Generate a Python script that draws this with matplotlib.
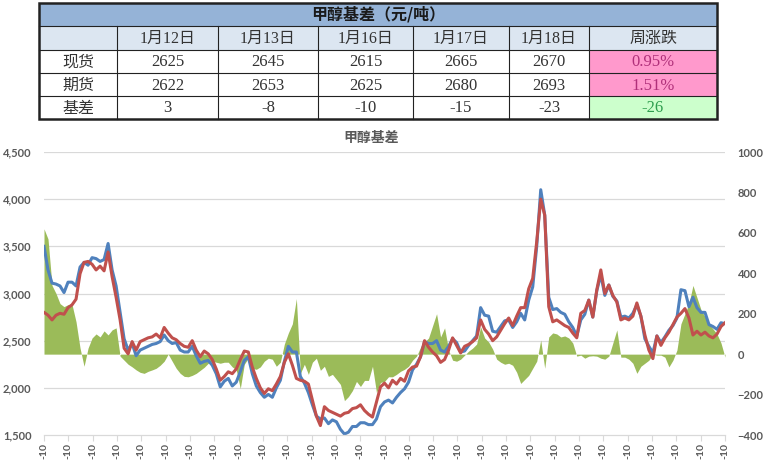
import numpy as np
import matplotlib
matplotlib.use('Agg')
import matplotlib.pyplot as plt
from matplotlib.patches import Rectangle
from matplotlib.transforms import blended_transform_factory
from matplotlib.ticker import FuncFormatter

# ---------------- data ----------------
spot = [3500, 3250, 3110, 3100, 3080, 3010, 3120, 3120, 3080, 3280,
        3330, 3300, 3380, 3370, 3340, 3360, 3530, 3250, 3080, 2800,
        2520, 2400, 2470, 2340, 2400, 2420, 2440, 2460, 2470, 2490,
        2560, 2500, 2470, 2480, 2400, 2380, 2380, 2440, 2340, 2260,
        2280, 2290, 2240, 2150, 2010, 2070, 2100, 2020, 2060, 2170,
        2290, 2330, 2150, 2020, 1950, 1900, 1930, 1900, 2000, 2080,
        2280, 2440, 2380, 2380, 2120, 2050, 1950, 1820, 1700, 1670,
        1680, 1620, 1660, 1640, 1560, 1510, 1530, 1590, 1590, 1630,
        1630, 1610, 1610, 1670, 1800, 1850, 1870, 1840, 1900, 1950,
        1990, 2060, 2190, 2250, 2330, 2490, 2470, 2470, 2500, 2400,
        2380, 2440, 2520, 2480, 2380, 2390, 2450, 2500, 2550, 2850,
        2770, 2760, 2600, 2590, 2650, 2710, 2720, 2640, 2700, 2790,
        2720, 2930, 3070, 3500, 4100, 3830, 2960, 2830, 2840, 2800,
        2780, 2700, 2640, 2550, 2720, 2780, 2930, 2750, 3030, 3200,
        2980, 3090, 2970, 2920, 2750, 2760, 2740, 2790, 2880, 2760,
        2520, 2440, 2370, 2550, 2480, 2540, 2610, 2660, 2740, 3040,
        3030, 2860, 2960, 2850, 2800, 2800, 2670, 2650, 2620, 2690,
        2680]
futures = [2800, 2770, 2720, 2770, 2790, 2780, 2850, 2880, 2940, 3210,
           3330, 3340, 3310, 3250, 3290, 3240, 3440, 3180, 2960, 2720,
           2420, 2360, 2490, 2400, 2490, 2510, 2530, 2540, 2570, 2530,
           2640, 2580, 2530, 2510, 2470, 2440, 2430, 2500, 2400, 2330,
           2390, 2360, 2300, 2200, 2080, 2120, 2170, 2150, 2200, 2300,
           2390, 2380, 2220, 2100, 2000, 1940, 1990, 1970, 2040, 2120,
           2270, 2360, 2240, 2100, 2080, 2070, 2040, 1870, 1700, 1600,
           1800, 1760, 1740, 1720, 1700, 1730, 1740, 1780, 1790, 1820,
           1760, 1720, 1690, 1850, 2010, 2050, 2000, 2080, 2040, 2100,
           2070, 2180, 2220, 2230, 2330, 2500, 2430, 2380, 2340, 2270,
           2300, 2400, 2530, 2450, 2370, 2440, 2460, 2490, 2530, 2720,
           2620, 2570, 2500, 2540, 2610, 2680, 2740, 2660, 2760, 2850,
           2850, 3050, 3160, 3550, 4000, 3830, 2860, 2700, 2720, 2690,
           2660, 2640, 2580, 2530, 2790, 2820, 2930, 2750, 3040, 3250,
           3000, 3090, 2980, 2910, 2720, 2740, 2720, 2760, 2900, 2760,
           2560, 2400, 2310, 2550, 2450, 2530, 2590, 2670, 2750, 2790,
           2840, 2740, 2560, 2600, 2560, 2590, 2550, 2530, 2570, 2650,
           2690]
basis = [620, 570, 340, 300, 250, 235, 245, 245, 160, 30,
         -60, 30, 80, 100, 85, 115, 95, 120, 130, -10,
         -30, -50, -63, -78, -90, -95, -85, -78, -70, -55,
         -35, 0, -35, -70, -95, -110, -112, -105, -95, -80,
         -65, -45, -35, -40, -45, -40, -40, -63, -78, -170,
         -50, -20, -70, -75, -63, -35, -20, -25, -60, -40,
         50, 105, 150, 275, -95, -50, -100, -40, -20, -80,
         -60, -110, -100, -125, -150, -230, -210, -180, -135, -160,
         -130, -130, -60, -190, -140, -135, -112, -112, -100, -85,
         -75, -60, -30, -10, 35, 60, 80, 140, 200, 85,
         130, 20, -30, -35, -25, -5, 15, 30, 50, 135,
         80, 60, 25, -25, -40, -50, -45, -55, -90, -145,
         -125, -105, -70, -35, 70, -70, 85, 105, 100, 85,
         90, 80, 55, -10, -5, -20, -10, -8, -10, -20,
         -25, -10, 55, 120, -15, -15, -25, -45, -95, -60,
         -45, -30, 0, -5, -5, -15, -63, -30, 20, 150,
         200, 250, 340, 280, 220, 185, 150, 125, 100, 55,
         -15]
x_labels = ['-10'] * 29
left_ticks = [1500, 2000, 2500, 3000, 3500, 4000, 4500]
right_ticks = [-400, -200, 0, 200, 400, 600, 800, 1000]

table_title = '甲醇基差（元/吨）'
dates = ['1月12日', '1月13日', '1月16日', '1月17日', '1月18日']
change_header = '周涨跌'
row_names = ['现货', '期货', '基差']
spot_row = [2625, 2645, 2615, 2665, 2670]
fut_row = [2622, 2653, 2625, 2680, 2693]
basis_row = [3, -8, -10, -15, -23]
weekly = ['0.95%', '1.51%', '-26']
chart_title = '甲醇基差'

# ---------------- figure ----------------
W, H = 763, 462
fig = plt.figure(figsize=(W / 100, H / 100), dpi=100)
fig.patch.set_facecolor('white')

GRAY = '#595959'
tick_family = ['Lato', 'DejaVu Sans']

ax = fig.add_axes([44 / W, 27 / H, 681 / W, 283 / H])
ax2 = ax.twinx()
ax.set_zorder(ax2.get_zorder() + 1)
ax.patch.set_visible(False)

x = np.arange(len(spot))
ax2.fill_between(x, 0, basis, color='#9BBB59', lw=0, zorder=2)
ax.plot(x, spot, color='#4F81BD', lw=2.2, solid_joinstyle='round')
ax.plot(x, futures, color='#C0504D', lw=2.2, solid_joinstyle='round')

ax.set_xlim(0, len(x) - 1)
ax.set_ylim(1500, 4500)
ax2.set_ylim(-400, 1000)

gt = blended_transform_factory(ax2.transAxes, ax.transData)
for v in left_ticks[1:]:
    ax2.plot([0, 1], [v, v], transform=gt, color='#D9D9D9', lw=0.9, zorder=0)

ax.set_yticks(left_ticks)
ax.yaxis.set_major_formatter(FuncFormatter(lambda v, p: f'{int(v):,}'))
ax2.set_yticks(right_ticks)
ax.set_xticks(np.linspace(0, len(x) - 1, len(x_labels)))
ax.set_xticklabels(x_labels, rotation=90)

for a in (ax, ax2):
    for s in ('top', 'left', 'right', 'bottom'):
        a.spines[s].set_visible(False)
ax.spines['bottom'].set_visible(True)
ax.spines['bottom'].set_color('#D9D9D9')
ax.spines['bottom'].set_linewidth(0.9)

ax.tick_params(axis='y', length=0, pad=9)
ax2.tick_params(axis='y', length=0, pad=9)
ax.tick_params(axis='x', length=4, color='#D9D9D9', pad=2)
for lab in ax.get_yticklabels() + ax2.get_yticklabels():
    lab.set_fontfamily(tick_family)
    lab.set_fontsize(8)
    lab.set_color(GRAY)
    lab.set_fontweight('bold')
for lab in ax.get_xticklabels():
    lab.set_fontfamily(tick_family)
    lab.set_fontsize(7.5)
    lab.set_color(GRAY)
    lab.set_fontweight('bold')

fig.text(371 / W, 1 - 138 / H, chart_title, ha='center', va='center',
         fontsize=10, fontweight='bold', color=GRAY,
         family=['Noto Sans CJK SC', 'DejaVu Sans'])

# ---------------- table ----------------
tab = fig.add_axes([0, 0, 1, 1], zorder=10)
tab.set_xlim(0, W)
tab.set_ylim(H, 0)
tab.axis('off')
tab.patch.set_visible(False)

cols = [39, 117, 218, 318, 413, 509, 589, 717]
rows = [3, 26, 50, 73, 96, 119]
left, right = cols[0], cols[-1]

tab.add_patch(Rectangle((left, rows[0]), right - left, rows[1] - rows[0], fc='#95B3D7', ec='none'))
tab.add_patch(Rectangle((left, rows[1]), right - left, rows[2] - rows[1], fc='#DCE6F1', ec='none'))
for r, fc in zip(range(2, 5), ['#FF99CC', '#FF99CC', '#CCFFCC']):
    tab.add_patch(Rectangle((cols[6], rows[r]), cols[7] - cols[6], rows[r + 1] - rows[r], fc=fc, ec='none'))

for yy in rows[1:-1]:
    tab.plot([left, right], [yy, yy], color='#222222', lw=0.8)
for xx in cols[1:-1]:
    tab.plot([xx, xx], [rows[1], rows[-1]], color='#222222', lw=0.8)
tab.add_patch(Rectangle((left, rows[0]), right - left, rows[-1] - rows[0], fc='none', ec='#222222', lw=1.8))

cell_font = ['Liberation Serif', 'Noto Sans CJK SC']
TXT = '#333333'


def cx(c):
    return (cols[c] + cols[c + 1]) / 2


def cy(r):
    return (rows[r] + rows[r + 1]) / 2


tab.text((left + right) / 2, cy(0), table_title, ha='center', va='center', fontsize=11.5,
         fontweight='bold', color='#1a1a1a', family=['Noto Sans CJK SC', 'DejaVu Sans'])
for i, d in enumerate(dates):
    tab.text(cx(i + 1), cy(1) + 1, d, ha='center', va='center', fontsize=11.5, color=TXT, family=cell_font)
tab.text(cx(6), cy(1) + 1, change_header, ha='center', va='center', fontsize=11.5, color=TXT, family=cell_font)

for r, (name, vals) in enumerate(zip(row_names, [spot_row, fut_row, basis_row])):
    tab.text(cx(0), cy(r + 2) + 1, name, ha='center', va='center', fontsize=11.5, color=TXT, family=cell_font)
    for i, v in enumerate(vals):
        tab.text(cx(i + 1), cy(r + 2) + 1, str(v), ha='center', va='center', fontsize=12, color=TXT, family=cell_font)
wk_colors = ['#B0307A', '#B0307A', '#2E9E4E']
for r, (s, c) in enumerate(zip(weekly, wk_colors)):
    tab.text(cx(6), cy(r + 2) + 1, s, ha='center', va='center', fontsize=12, color=c, family=cell_font)

fig.savefig('out.png', dpi=100)
